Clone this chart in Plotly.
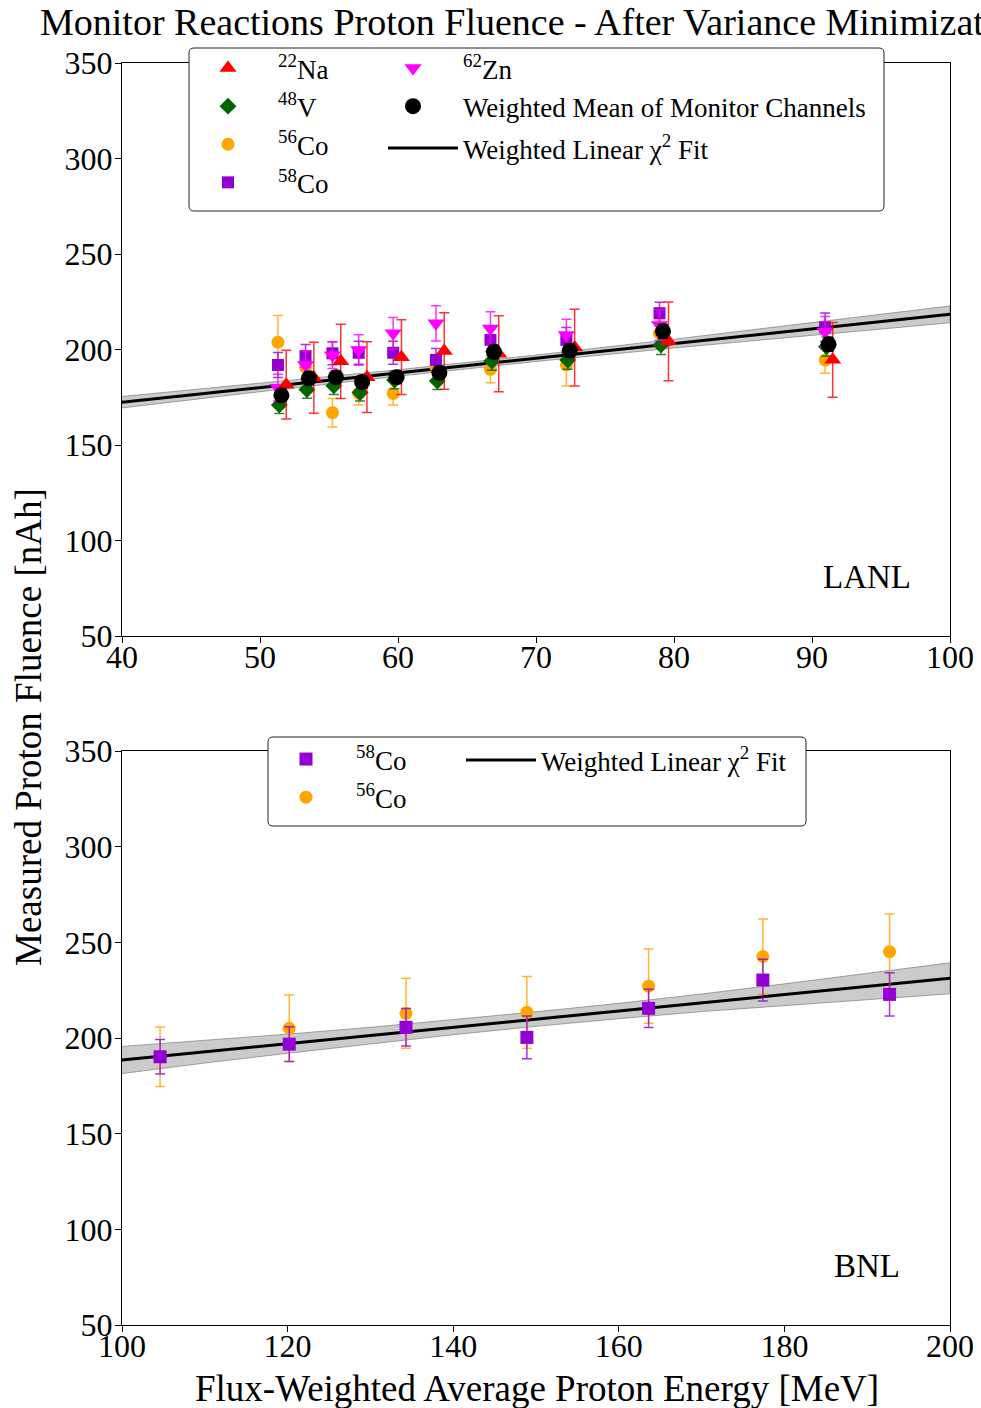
import plotly.graph_objects as go

W, H = 981, 1408
SERIF = "Liberation Serif, Times New Roman, serif"

# ---------------- LANL monitor channels ----------------
lanl_x_mean = [51.55, 53.55, 55.5, 57.4, 59.9, 63.0, 66.95, 72.45, 79.2, 91.2]
lanl_y_mean = [176.0, 185.0, 185.5, 183.0, 185.5, 187.8, 198.8, 199.4, 209.5, 202.7]
lanl_e_mean = [3.0, 3.0, 3.0, 3.0, 3.0, 3.0, 3.2, 3.2, 3.3, 3.3]

lanl_x_na22 = [51.9, 53.9, 55.85, 57.75, 60.25, 63.35, 67.3, 72.8, 79.6, 91.5]
lanl_y_na22 = [181.6, 185.2, 193.8, 185.5, 196.0, 199.2, 197.8, 201.0, 204.3, 194.6]
lanl_e_na22 = [18.0, 18.6, 19.4, 18.5, 19.6, 20.0, 19.9, 20.1, 20.6, 19.6]

lanl_x_v48 = [51.4, 53.4, 55.35, 57.25, 59.75, 62.85, 66.8, 72.3, 79.05, 91.05]
lanl_y_v48 = [171.0, 179.0, 181.0, 177.5, 184.0, 183.5, 194.0, 194.5, 202.4, 201.5]
lanl_e_v48 = [4.5, 4.5, 4.5, 4.5, 4.5, 4.5, 4.8, 4.8, 5.0, 5.0]

lanl_x_co56 = [51.3, 53.3, 55.25, 57.15, 59.65, 62.75, 66.7, 72.2, 78.95, 90.95]
lanl_y_co56 = [203.8, 190.7, 166.9, 177.0, 177.0, 191.0, 189.6, 191.9, 208.5, 194.5]
lanl_e_co56 = [14.0, 6.5, 7.5, 6.0, 6.0, 6.5, 7.0, 11.0, 7.0, 7.0]

lanl_x_co58 = [51.3, 53.3, 55.25, 57.15, 59.65, 62.75, 66.7, 72.2, 78.95, 90.95]
lanl_y_co58 = [191.9, 196.6, 198.0, 198.3, 198.3, 194.5, 205.0, 205.0, 219.0, 211.6]
lanl_e_co58 = [6.5, 6.0, 6.0, 6.0, 6.0, 6.0, 6.0, 6.5, 5.7, 7.5]

lanl_x_zn62 = [51.3, 53.3, 55.25, 57.15, 59.65, 62.75, 66.7, 72.2, 78.95, 90.95]
lanl_y_zn62 = [180.0, 191.9, 197.0, 199.7, 208.5, 213.7, 211.0, 207.6, 212.8, 209.3]
lanl_e_zn62 = [7.0, 7.5, 7.0, 8.0, 8.3, 9.2, 8.8, 8.2, 8.0, 8.0]

# Weighted linear fit (centre and 1-sigma half width of the band)
lanl_fit_x = [40, 50, 60, 70, 80, 90, 100]
lanl_fit_y = [172.4, 180.1, 187.7, 195.4, 203.1, 210.8, 218.4]
lanl_fit_e = [3.0, 2.2, 1.7, 1.7, 2.3, 3.3, 4.4]

# ---------------- BNL monitor channels ----------------
bnl_x = [104.6, 120.2, 134.3, 148.9, 163.6, 177.4, 192.7]
bnl_y_co58 = [190.2, 196.8, 205.6, 200.3, 215.5, 230.3, 222.8]
bnl_e_co58 = [9.0, 9.1, 9.8, 11.2, 10.0, 10.9, 11.3]
bnl_y_co56 = [190.2, 205.1, 212.9, 213.4, 227.1, 242.6, 245.1]
bnl_e_co56 = [15.6, 17.4, 18.3, 18.8, 19.4, 19.6, 19.7]

bnl_fit_x = [100, 110, 120, 130, 140, 150, 160, 170, 180, 190, 200]
bnl_fit_y = [188.5, 192.8, 197.0, 201.3, 205.6, 209.9, 214.1, 218.4, 222.7, 226.9, 231.2]
bnl_fit_e = [7.1, 5.9, 5.0, 4.3, 3.9, 3.8, 4.0, 4.6, 5.6, 6.8, 8.1]

RED, GREEN, ORANGE, PURPLE, MAGENTA = "#ff0000", "#006400", "#ffa500", "#9400d3", "#ff00ff"


def ebar(err, color, thick=1.5, cap=5):
    return dict(type="data", array=err, color=color, thickness=thick, width=cap, visible=True)


def rgba(hexc, a):
    h = hexc.lstrip("#")
    return "rgba(%d,%d,%d,%.2f)" % (int(h[0:2], 16), int(h[2:4], 16), int(h[4:6], 16), a)


fig = go.Figure()


def add_band(xs, ys, es, xa, ya):
    upper = [y + e for y, e in zip(ys, es)]
    lower = [y - e for y, e in zip(ys, es)]
    fig.add_trace(go.Scatter(
        x=xs + xs[::-1], y=upper + lower[::-1], xaxis=xa, yaxis=ya,
        fill="toself", fillcolor="rgba(140,140,140,0.45)",
        line=dict(color="rgba(110,110,110,0.6)", width=1),
        mode="lines", showlegend=False, hoverinfo="skip"))


def add_fit(xs, ys, xa, ya, legend):
    fig.add_trace(go.Scatter(
        x=xs, y=ys, xaxis=xa, yaxis=ya, mode="lines",
        line=dict(color="black", width=3),
        name="Weighted Linear \u03c7<sup>2</sup> Fit", legend=legend))


def add_pts(xs, ys, es, color, symbol, size, name, xa, ya, legend, rank, thick=1.5):
    fig.add_trace(go.Scatter(
        x=xs, y=ys, xaxis=xa, yaxis=ya, mode="markers",
        marker=dict(color=color, symbol=symbol, size=size, line=dict(width=0)),
        error_y=ebar(es, rgba(color, 0.8) if color != "black" else "black", thick),
        name=name, legend=legend, legendrank=rank))


# ---- top panel ----
add_band(lanl_fit_x, lanl_fit_y, lanl_fit_e, "x", "y")
add_fit(lanl_fit_x, lanl_fit_y, "x", "y", "legend3")
add_pts(lanl_x_co56, lanl_y_co56, lanl_e_co56, ORANGE, "circle", 13, "<sup>56</sup>Co", "x", "y", "legend", 3)
add_pts(lanl_x_co58, lanl_y_co58, lanl_e_co58, PURPLE, "square", 12, "<sup>58</sup>Co", "x", "y", "legend", 4)
add_pts(lanl_x_v48, lanl_y_v48, lanl_e_v48, GREEN, "diamond", 13, "<sup>48</sup>V", "x", "y", "legend", 2)
add_pts(lanl_x_zn62, lanl_y_zn62, lanl_e_zn62, MAGENTA, "triangle-down", 15, "<sup>62</sup>Zn", "x", "y", "legend2", 1)
add_pts(lanl_x_na22, lanl_y_na22, lanl_e_na22, RED, "triangle-up", 15, "<sup>22</sup>Na", "x", "y", "legend", 1)
add_pts(lanl_x_mean, lanl_y_mean, lanl_e_mean, "black", "circle", 16,
        "Weighted Mean of Monitor Channels", "x", "y", "legend2", 2, thick=2.5)

# ---- bottom panel ----
add_band(bnl_fit_x, bnl_fit_y, bnl_fit_e, "x2", "y2")
add_fit(bnl_fit_x, bnl_fit_y, "x2", "y2", "legend5")
add_pts(bnl_x, bnl_y_co56, bnl_e_co56, ORANGE, "circle", 13, "<sup>56</sup>Co", "x2", "y2", "legend4", 2)
add_pts(bnl_x, bnl_y_co58, bnl_e_co58, PURPLE, "square", 13, "<sup>58</sup>Co", "x2", "y2", "legend4", 1)


def pxx(p):
    return p / W


def pxy(p):
    return 1 - p / H


axis_common = dict(showline=True, linecolor="black", linewidth=1, mirror=True,
                   ticks="outside", ticklen=6, tickwidth=1, tickcolor="black",
                   showgrid=False, zeroline=False, automargin=False,
                   tickfont=dict(family=SERIF, size=32, color="black"))
x_axis = dict(ticklabelstandoff=-13, **axis_common)
y_axis = dict(ticklabelstandoff=-4, **axis_common)

xdom = [pxx(122), pxx(950)]
fig.update_layout(
    width=W, height=H, margin=dict(l=0, r=0, t=0, b=0, pad=0, autoexpand=False),
    paper_bgcolor="white", plot_bgcolor="white",
    font=dict(family=SERIF, color="black"),
    xaxis=dict(domain=xdom, anchor="y", range=[40, 100], tickvals=[40, 50, 60, 70, 80, 90, 100], **x_axis),
    yaxis=dict(domain=[pxy(636), pxy(63)], anchor="x", range=[50, 350],
               tickvals=[50, 100, 150, 200, 250, 300, 350], **y_axis),
    xaxis2=dict(domain=xdom, anchor="y2", range=[100, 200],
                tickvals=[100, 120, 140, 160, 180, 200], **x_axis),
    yaxis2=dict(domain=[pxy(1325), pxy(751)], anchor="x2", range=[50, 350],
                tickvals=[50, 100, 150, 200, 250, 300, 350], **y_axis),
    showlegend=True,
)

leg_common = dict(bgcolor="rgba(0,0,0,0)", borderwidth=0, xanchor="left", yanchor="top",
                  font=dict(family=SERIF, size=27, color="black"), orientation="v",
                  traceorder="normal")
fig.update_layout(
    legend=dict(x=pxx(178), y=pxy(44), itemwidth=90, **leg_common),
    legend2=dict(x=pxx(363), y=pxy(44), itemwidth=90, **leg_common),
    legend3=dict(x=pxx(383), y=pxy(124), itemwidth=70, **leg_common),
    legend4=dict(x=pxx(256), y=pxy(735), itemwidth=90, **leg_common),
    legend5=dict(x=pxx(461), y=pxy(736), itemwidth=70, **leg_common),
)


def rounded_box(x0, y0, x1, y1, r=5):
    rx, ry = r / W, r / H
    a0, a1 = pxx(x0), pxx(x1)
    b0, b1 = pxy(y1), pxy(y0)
    return ("M %f,%f L %f,%f Q %f,%f %f,%f L %f,%f Q %f,%f %f,%f "
            "L %f,%f Q %f,%f %f,%f L %f,%f Q %f,%f %f,%f Z") % (
        a0 + rx, b0, a1 - rx, b0, a1, b0, a1, b0 + ry,
        a1, b1 - ry, a1, b1, a1 - rx, b1,
        a0 + rx, b1, a0, b1, a0, b1 - ry,
        a0, b0 + ry, a0, b0, a0 + rx, b0)


for box in [(189, 48, 884, 211), (268, 737, 806, 826)]:
    fig.add_shape(type="path", path=rounded_box(*box), xref="paper", yref="paper",
                  fillcolor="white", line=dict(color="#222222", width=1), layer="above")

annotations = [
    dict(text="Monitor Reactions Proton Fluence - After Variance Minimization",
         x=pxx(536), y=pxy(22), xref="paper", yref="paper", xanchor="center", yanchor="middle",
         showarrow=False, font=dict(family=SERIF, size=38, color="black")),
    dict(text="Measured Proton Fluence [nAh]", x=pxx(28), y=pxy(727), xref="paper", yref="paper",
         xanchor="center", yanchor="middle", textangle=-90, showarrow=False,
         font=dict(family=SERIF, size=37, color="black")),
    dict(text="Flux-Weighted Average Proton Energy [MeV]", x=pxx(537), y=pxy(1388),
         xref="paper", yref="paper", xanchor="center", yanchor="middle", showarrow=False,
         font=dict(family=SERIF, size=37, color="black")),
    dict(text="LANL", x=0.9, y=0.103, xref="x domain", yref="y domain", xanchor="center",
         yanchor="middle", showarrow=False, font=dict(family=SERIF, size=33, color="black")),
    dict(text="BNL", x=0.9, y=0.103, xref="x2 domain", yref="y2 domain", xanchor="center",
         yanchor="middle", showarrow=False, font=dict(family=SERIF, size=33, color="black")),
]
fig.update_layout(annotations=annotations)

fig.write_html("out.html")
